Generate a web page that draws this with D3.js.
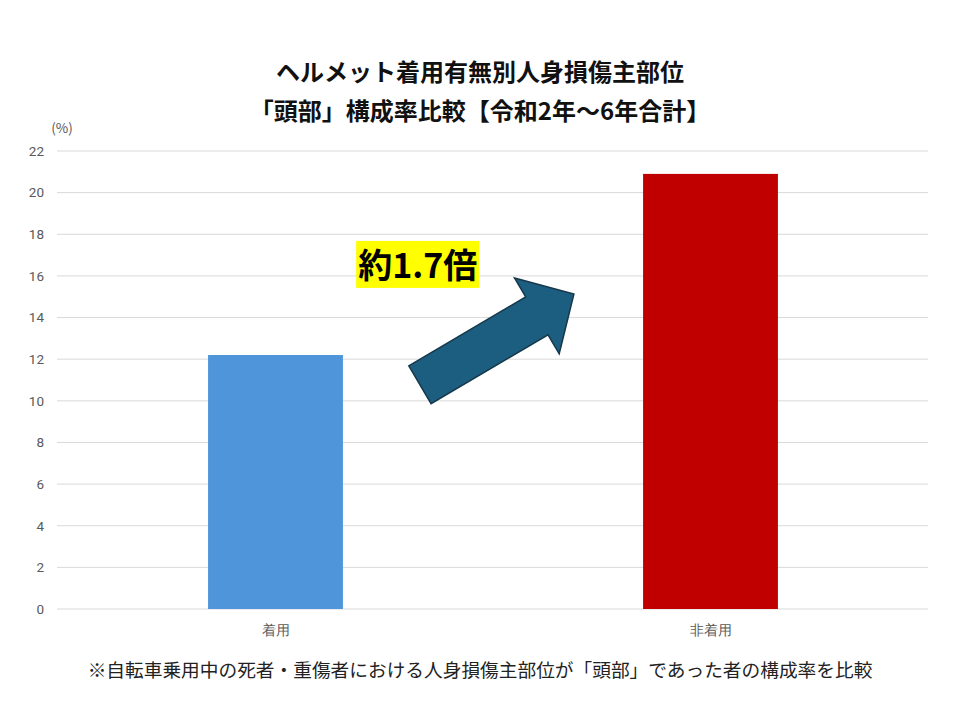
<!DOCTYPE html>
<html>
<head>
<meta charset="utf-8">
<script src="https://cdn.jsdelivr.net/npm/d3@7"></script>
<style>
  body { margin: 0; background: #fff; }
  svg { font-family: "Noto Sans CJK JP", "Noto Sans", sans-serif; }
</style>
</head>
<body>
<svg id="chart" width="960" height="720"></svg>
<script>
var categories = ["着用", "非着用"],
    values = [12.2, 20.9],
    barColors = ["#4e95d9", "#c00000"],
    yTicks = [0, 2, 4, 6, 8, 10, 12, 14, 16, 18, 20, 22];

var titleLines = ["ヘルメット着用有無別人身損傷主部位", "「頭部」構成率比較【令和2年～6年合計】"],
    unitLabel = "(%)",
    footnote = "※自転車乗用中の死者・重傷者における人身損傷主部位が「頭部」であった者の構成率を比較",
    ratioLabel = "約1.7倍";

// annotation anchors: [fraction between bar centres, value]
var arrowTail = [0.332, 10.77],
    arrowTip = [0.686, 15.13],
    labelAt = [0.327, 16.6];

var svg = d3.select("#chart"),
    margin = {top: 151, right: 32, bottom: 111, left: 58},
    width = +svg.attr("width") - margin.left - margin.right,
    height = +svg.attr("height") - margin.top - margin.bottom,
    g = svg.append("g").attr("transform", "translate(" + margin.left + "," + margin.top + ")");

var x = d3.scaleBand()
    .domain(categories)
    .range([0, width])
    .paddingInner(0.69)
    .paddingOuter(0.345);

var y = d3.scaleLinear()
    .domain([0, 22])
    .range([height, 0]);

// gridlines
g.append("g")
    .selectAll("line")
    .data(yTicks)
    .enter().append("line")
    .attr("x1", -1)
    .attr("x2", width)
    .attr("y1", d => y(d))
    .attr("y2", d => y(d))
    .attr("stroke", "#d9d9d9")
    .attr("stroke-width", 1);

// y axis labels
var yAxis = g.append("g")
    .call(d3.axisLeft(y).tickValues(yTicks).tickSize(0).tickPadding(14));
yAxis.select(".domain").remove();
yAxis.selectAll("text")
    .attr("fill", "#595959")
    .style("font-size", "13.5px")
    .style("font-family", "Roboto, 'Noto Sans', sans-serif");

g.append("text")
    .attr("x", 4)
    .attr("y", -18)
    .attr("text-anchor", "middle")
    .attr("fill", "#595959")
    .style("font-size", "13.5px")
    .text(unitLabel);

// bars
g.append("g")
    .selectAll("rect")
    .data(values)
    .enter().append("rect")
    .attr("x", (d, i) => x(categories[i]))
    .attr("width", x.bandwidth())
    .attr("y", d => y(d))
    .attr("height", d => y(0) - y(d))
    .attr("fill", (d, i) => barColors[i]);

// x axis labels
var xAxis = g.append("g")
    .attr("transform", "translate(0," + height + ")")
    .call(d3.axisBottom(x).tickSize(0).tickPadding(16));
xAxis.select(".domain").remove();
xAxis.selectAll("text")
    .attr("fill", "#595959")
    .style("font-size", "14px");

// annotation helpers
var c0 = x(categories[0]) + x.bandwidth() / 2,
    c1 = x(categories[1]) + x.bandwidth() / 2;
function ax(f) { return c0 + f * (c1 - c0); }

// arrow
var tx = ax(arrowTail[0]), ty = y(arrowTail[1]),
    hx = ax(arrowTip[0]), hy = y(arrowTip[1]),
    len = Math.hypot(hx - tx, hy - ty),
    ux = (hx - tx) / len, uy = (hy - ty) / len,
    nx = -uy, ny = ux,
    shaftW = 22, headW = 44, headL = 43;

function pt(a, b) { return [tx + ux * a + nx * b, ty + uy * a + ny * b]; }
var arrowPts = [
    pt(0, -shaftW), pt(len - headL, -shaftW), pt(len - headL, -headW), pt(len, 0),
    pt(len - headL, headW), pt(len - headL, shaftW), pt(0, shaftW)
];

g.append("path")
    .attr("d", d3.line()(arrowPts) + "Z")
    .attr("fill", "#1b5e80")
    .attr("stroke", "#17384a")
    .attr("stroke-width", 1.5)
    .attr("stroke-linejoin", "miter");

// ratio label
var lab = g.append("g");
var labBg = lab.append("rect").attr("fill", "#ffff00");
var labText = lab.append("text")
    .attr("x", ax(labelAt[0]))
    .attr("y", y(labelAt[1]))
    .attr("text-anchor", "middle")
    .attr("dominant-baseline", "central")
    .attr("fill", "#000")
    .style("font-size", "34px")
    .style("font-weight", "bold")
    .text(ratioLabel);
var bb = labText.node().getBBox();
labBg.attr("x", bb.x - 2).attr("y", bb.y + 2)
    .attr("width", bb.width + 4).attr("height", bb.height - 2);

// title
svg.append("g")
    .selectAll("text")
    .data(titleLines)
    .enter().append("text")
    .attr("x", 480)
    .attr("y", (d, i) => 81 + i * 39)
    .attr("text-anchor", "middle")
    .attr("fill", "#111")
    .style("font-size", "24px")
    .style("font-weight", "bold")
    .text(d => d);

// footnote
svg.append("text")
    .attr("x", 480)
    .attr("y", 677)
    .attr("text-anchor", "middle")
    .attr("fill", "#222")
    .style("font-size", "18.7px")
    .text(footnote);
</script>
</body>
</html>
